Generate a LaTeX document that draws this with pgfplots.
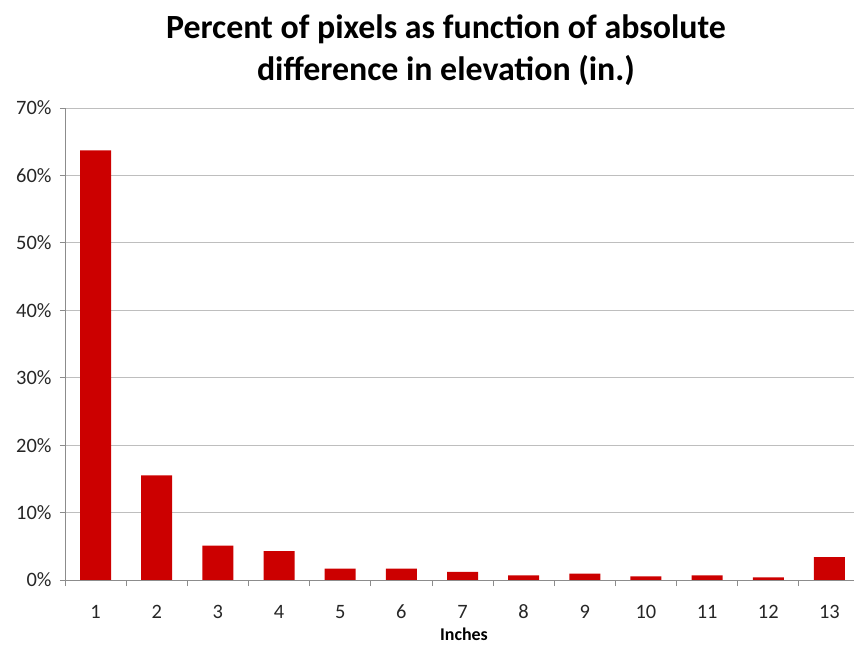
\documentclass[border=0pt]{standalone}
\usepackage{pgfplots}
\pgfplotsset{compat=1.18}
\usepackage{fontspec}
\setmainfont{Carlito}
\definecolor{barred}{HTML}{CC0000}
\definecolor{gridgray}{HTML}{BEBEBE}
\definecolor{axgray}{HTML}{8C8C8C}
\begin{document}
\begin{tikzpicture}
\path[use as bounding box] (-65bp,-65bp) rectangle (789bp,580bp);
\begin{axis}[
  scale only axis,
  width=795bp, height=472bp,
  at={(0,0)}, anchor=south west,
  ybar, bar width=31bp,
  xmin=0.5, xmax=13.5,
  ymin=0, ymax=70,
  xtick={1,...,13},
  minor xtick={0.5,1.5,...,13.5},
  ytick={0,10,...,70},
  yticklabels={0\%,10\%,20\%,30\%,40\%,50\%,60\%,70\%},
  ymajorgrids, major grid style={gridgray, line width=0.9pt},
  axis x line*=bottom, axis y line*=left,
  axis line style={axgray, line width=0.9pt, -},
  major x tick style={draw=none},
  minor x tick style={axgray, line width=0.8pt},
  major y tick style={axgray, line width=0.8pt},
  tick align=outside,
  major tick length=5bp, minor tick length=6bp,
  tick label style={font=\fontsize{20.5}{22}\selectfont, text=black!85},
  xticklabel style={anchor=center, yshift=-27bp},
  yticklabel style={xshift=-5bp},
  xlabel={\textbf{Inches}},
  xlabel style={font=\fontsize{18}{20}\selectfont, at={(axis description cs:0,0)}, anchor=center, xshift=399bp, yshift=-54bp},
  /pgf/number format/assume math mode=true,
]
\addplot[fill=barred, draw=none] coordinates {
(1,63.7) (2,15.5) (3,5.1) (4,4.3) (5,1.7) (6,1.7) (7,1.2)
(8,0.7) (9,0.95) (10,0.55) (11,0.7) (12,0.4) (13,3.4)};
\end{axis}
\node[align=center, font=\fontsize{34}{42}\selectfont\bfseries] at (381bp,530bp)
  {Percent of pixels as function of absolute\\difference in elevation (in.)};
\end{tikzpicture}
\end{document}
